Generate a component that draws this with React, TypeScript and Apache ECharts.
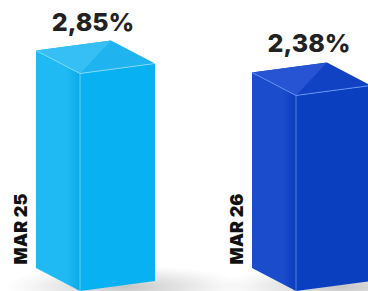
import React, { useEffect, useRef } from "react";
import * as echarts from "echarts";

const categories = ["MAR 25", "MAR 26"];
const values = [2.85, 2.38];

const palettes = [
  { right: "#08b1f1", left: "#1fbaf4", leftDark: "#0aa9e8", top: "#1fb4ef", topHi: "#36bff5", edge: "#8fdcff" },
  { right: "#0a40c0", left: "#1a4ccb", leftDark: "#0b3cbb", top: "#1242c4", topHi: "#2654d2", edge: "#6f9cff" },
];

const Y_MIN = -1.8;

export default function App() {
  const ref = useRef<HTMLDivElement>(null);
  useEffect(() => {
    if (!ref.current) return;
    const chart = echarts.init(ref.current, null, { renderer: "svg" });
    const fmt = (v: number) => v.toFixed(2).replace(".", ",") + "%";
    chart.setOption({
      animation: false,
      backgroundColor: "#ffffff",
      grid: { left: 0, width: 368, top: 1, height: 290 },
      xAxis: { type: "value", min: -80 / 216, max: 288 / 216, show: false },
      yAxis: { type: "value", min: Y_MIN, max: 4.4, show: false },
      series: [
        {
          type: "custom",
          data: values.map((v, i) => [i, v]),
          renderItem: (params: any, api: any) => {
            const i = api.value(0);
            const v = api.value(1);
            const [fx, ft] = api.coord([i, v]);
            const fb = api.coord([i, Y_MIN])[1];
            const p = palettes[i];
            const L = [-44, -23];
            const R = [75, -10];
            const lt = [fx + L[0], ft + L[1]];
            const rt = [fx + R[0], ft + R[1]];
            const bt = [fx + L[0] + R[0], ft + L[1] + R[1]];
            const lb = [fx + L[0], fb + L[1]];
            const rb = [fx + R[0], fb + R[1]];
            return {
              type: "group",
              children: [
                {
                  type: "ellipse",
                  shape: { cx: fx + 45, cy: fb - 4, rx: 120, ry: 22 },
                  style: {
                    fill: {
                      type: "radial", x: 0.5, y: 0.5, r: 0.5,
                      colorStops: [
                        { offset: 0, color: "rgba(90,90,90,0.35)" },
                        { offset: 0.6, color: "rgba(120,120,120,0.15)" },
                        { offset: 1, color: "rgba(150,150,150,0)" },
                      ],
                    },
                  },
                },
                {
                  type: "polygon",
                  shape: { points: [lt, [fx, ft], [fx, fb], lb] },
                  style: {
                    fill: {
                      type: "linear", x: 0, y: 0, x2: 1, y2: 0,
                      colorStops: [
                        { offset: 0, color: p.left },
                        { offset: 0.7, color: p.left },
                        { offset: 1, color: p.leftDark },
                      ],
                    },
                  },
                },
                {
                  type: "polygon",
                  shape: { points: [[fx, ft], rt, rb, [fx, fb]] },
                  style: { fill: p.right },
                },
                {
                  type: "polygon",
                  shape: { points: [lt, bt, rt, [fx, ft]] },
                  style: { fill: p.top },
                },
                {
                  type: "polygon",
                  shape: { points: [lt, bt, [fx, ft]] },
                  style: { fill: p.topHi },
                },
                {
                  type: "polyline",
                  shape: { points: [lt, [fx, ft], rt] },
                  style: { stroke: p.edge, lineWidth: 1, fill: null, opacity: 0.8 },
                },
                {
                  type: "line",
                  shape: { x1: fx, y1: ft, x2: fx, y2: fb },
                  style: { stroke: p.edge, lineWidth: 1, opacity: 0.7 },
                },
                {
                  type: "text",
                  x: fx + 13,
                  y: ft - 52,
                  style: {
                    text: fmt(v),
                    x: 0, y: 0,
                    align: "center",
                    verticalAlign: "middle",
                    fontFamily: "Inter",
                    fontWeight: 800,
                    fontSize: 25,
                    fill: "#222222",
                  },
                },
                {
                  type: "text",
                  x: fx - 60,
                  y: 229,
                  rotation: Math.PI / 2,
                  style: {
                    text: categories[params.dataIndex],
                    x: 0, y: 0,
                    align: "center",
                    verticalAlign: "middle",
                    fontFamily: "Inter",
                    fontWeight: 900,
                    fontSize: 18,
                    fill: "#111111",
                  },
                },
              ],
            };
          },
        },
      ],
    });
    return () => chart.dispose();
  }, []);
  return (
    <div
      ref={ref}
      style={{ position: "fixed", left: 0, top: 0, width: 368, height: 291 }}
    />
  );
}
